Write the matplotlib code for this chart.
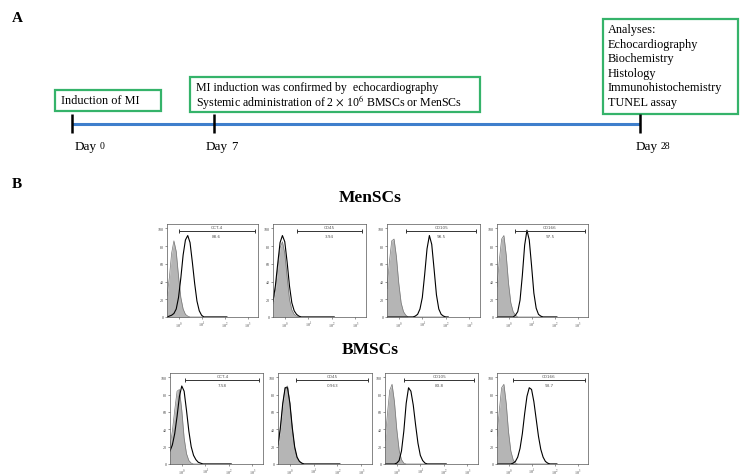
import numpy as np
import matplotlib
matplotlib.use("Agg")
import matplotlib.pyplot as plt
from matplotlib.patches import Rectangle

plt.rcParams['font.family'] = ['Liberation Serif', 'DejaVu Serif']
plt.rcParams['mathtext.fontset'] = 'stix'

# timeline data
days = [0, 7, 28]
day_nums = ['0', '7', '28']

# flow cytometry data (x = log10 fluorescence, y = % of max)
log_x = [-0.5, -0.4, -0.3, -0.2, -0.1, 0.0, 0.1, 0.2, 0.3, 0.4, 0.5, 0.6, 0.7, 0.8,
         0.9, 1.0, 1.1, 1.2, 1.3, 1.4, 1.5, 1.6, 1.7, 1.8, 1.9, 2.0, 2.1]
markers = ['OCT-4', 'CD45', 'CD105', 'CD166']

men_iso = [
    [24, 44, 72, 86, 74, 46, 22, 9, 3, 1, 0, 0, 0, 0, 0, 0, 0, 0, 0, 0, 0, 0, 0, 0, 0, 0, 0],
    [15, 30, 55, 78, 85, 72, 45, 20, 8, 3, 1, 0, 0, 0, 0, 0, 0, 0, 0, 0, 0, 0, 0, 0, 0, 0, 0],
    [32, 62, 86, 88, 68, 38, 16, 6, 2, 0, 0, 0, 0, 0, 0, 0, 0, 0, 0, 0, 0, 0, 0, 0, 0, 0, 0],
    [34, 64, 88, 92, 70, 38, 16, 6, 2, 0, 0, 0, 0, 0, 0, 0, 0, 0, 0, 0, 0, 0, 0, 0, 0, 0, 0],
]
men_stain = [
    [0, 1, 2, 4, 9, 22, 44, 70, 87, 92, 84, 62, 38, 18, 7, 2, 0, 0, 0, 0, 0, 0, 0, 0, 0, 0, 0],
    [18, 35, 60, 84, 92, 85, 62, 35, 16, 7, 3, 1, 0, 0, 0, 0, 0, 0, 0, 0, 0, 0, 0, 0, 0, 0, 0],
    [0, 0, 0, 0, 0, 0, 0, 0, 0, 0, 0, 0, 1, 3, 9, 22, 48, 77, 92, 82, 54, 25, 9, 3, 1, 0, 0],
    [0, 0, 0, 0, 0, 0, 0, 0, 2, 6, 19, 47, 81, 98, 87, 58, 27, 10, 3, 1, 0, 0, 0, 0, 0, 0, 0],
]
men_pct = ['88.6', '3.94', '98.5', '97.5']
men_gate = [0.0, 0.5, 0.3, 0.3]

bm_iso = [
    [20, 38, 62, 84, 86, 62, 30, 12, 4, 1, 0, 0, 0, 0, 0, 0, 0, 0, 0, 0, 0, 0, 0, 0, 0, 0, 0],
    [20, 40, 68, 88, 90, 70, 40, 18, 7, 3, 1, 0, 0, 0, 0, 0, 0, 0, 0, 0, 0, 0, 0, 0, 0, 0, 0],
    [27, 57, 85, 92, 72, 40, 16, 5, 1, 0, 0, 0, 0, 0, 0, 0, 0, 0, 0, 0, 0, 0, 0, 0, 0, 0, 0],
    [32, 62, 88, 92, 70, 37, 15, 5, 1, 0, 0, 0, 0, 0, 0, 0, 0, 0, 0, 0, 0, 0, 0, 0, 0, 0, 0],
]
bm_stain = [
    [15, 22, 35, 55, 78, 90, 84, 62, 38, 20, 10, 5, 2, 1, 0, 0, 0, 0, 0, 0, 0, 0, 0, 0, 0, 0, 0],
    [22, 42, 70, 88, 88, 70, 42, 20, 8, 3, 1, 0, 0, 0, 0, 0, 0, 0, 0, 0, 0, 0, 0, 0, 0, 0, 0],
    [0, 0, 0, 0, 0, 1, 4, 15, 38, 70, 88, 84, 68, 45, 24, 10, 4, 1, 0, 0, 0, 0, 0, 0, 0, 0, 0],
    [0, 0, 0, 0, 0, 0, 0, 1, 3, 8, 18, 35, 58, 78, 88, 86, 72, 52, 32, 17, 8, 3, 1, 0, 0, 0, 0],
]
bm_pct = ['7.58', '0.963', '83.8', '93.7']
bm_gate = [0.15, 0.25, 0.3, 0.2]
gate_end = 3.3

W, H = 741, 477
fig = plt.figure(figsize=(W / 100, H / 100), dpi=100)

# overlay in pixel coords for layout items
ax_px = fig.add_axes([0, 0, 1, 1])
ax_px.set_xlim(0, W)
ax_px.set_ylim(H, 0)
ax_px.axis('off')

# timeline axes with day scale
x0, x28 = 72, 640
ppd = (x28 - x0) / 28
ax_tl = fig.add_axes([0, 0, 1, 1])
ax_tl.set_xlim(-x0 / ppd, (W - x0) / ppd)
ax_tl.set_ylim(H, 0)
ax_tl.axis('off')
ax_tl.patch.set_alpha(0)

ax_tl.plot([days[0], days[-1]], [125, 125], color='#3f7fcc', lw=2.2, solid_capstyle='butt')
ax_tl.vlines(days, 115, 134, color='black', lw=1.8)
label_off = [3, -8, -4]
num_size = [7, 9, 7]
for d, n, off, ns in zip(days, day_nums, label_off, num_size):
    t = ax_tl.text(d + off / ppd, 147, 'Day', fontsize=9.5, ha='left', va='center')
    ax_tl.annotate(n, xy=(1, 0.5), xycoords=t, xytext=(2, 0), textcoords='offset points',
                   fontsize=ns, ha='left', va='center')

green = '#35b36a'
for (bx, by, bw, bh) in [(55, 91, 106, 21), (190, 78, 290, 35), (603, 20, 135, 95)]:
    ax_px.add_patch(Rectangle((bx, by), bw, bh, fill=False, edgecolor=green, lw=1.6))

ax_px.text(61, 101.5, 'Induction of MI', fontsize=8.8, va='center')
ax_px.text(196, 88, 'MI induction was confirmed by  echocardiography', fontsize=8.6, va='center')
ax_px.text(196, 102, r'Systemic administration of 2 $\times$ 10$^6$ BMSCs or MenSCs', fontsize=8.6, va='center')
analyses = ['Analyses:', 'Echocardiography', 'Biochemistry', 'Histology',
            'Immunohistochemistry', 'TUNEL assay']
for i, s in enumerate(analyses):
    ax_px.text(608, 30 + i * 14.6, s, fontsize=8.8, va='center')

ax_px.text(12, 18, 'A', fontsize=11, fontweight='bold', va='center')
ax_px.text(12, 185, 'B', fontsize=11, fontweight='bold', va='center')
ax_px.text(370, 198, 'MenSCs', fontsize=12.5, fontweight='bold', ha='center', va='center')
ax_px.text(370, 350, 'BMSCs', fontsize=12.5, fontweight='bold', ha='center', va='center')


def flow_panel(rect, iso, stain, name, pct, gate0):
    l, t, r, b = rect
    ax = fig.add_axes([l / W, 1 - b / H, (r - l) / W, (b - t) / H])
    ax.fill_between(log_x, iso, color='#b5b5b5', lw=0)
    ax.plot(log_x, iso, color='#777777', lw=0.5)
    ax.plot(log_x, stain, color='black', lw=0.8)
    ax.set_xlim(-0.5, 3.45)
    ax.set_ylim(0, 105)
    ax.set_yticks([0, 20, 40, 60, 80, 100])
    ax.set_xticks([0, 1, 2, 3])
    ax.set_xticklabels([r'$10^0$', r'$10^1$', r'$10^2$', r'$10^3$'])
    ax.tick_params(labelsize=3, length=1.5, width=0.4, pad=0.8, colors='#444444')
    for sp in ax.spines.values():
        sp.set_linewidth(0.5)
        sp.set_color('#555555')
    ax.plot([gate0, gate_end], [97, 97], color='#333333', lw=0.7)
    ax.plot([gate0, gate_end], [97, 97], ls='none', marker='|', ms=3, color='#333333', mew=0.7)
    mid = (gate0 + gate_end) / 2
    ax.text(mid, 99, name, fontsize=3, ha='center', va='bottom', family='DejaVu Sans', color='#555555')
    ax.text(mid, 94, pct, fontsize=3, ha='center', va='top', family='DejaVu Sans', color='#555555')
    return ax


top_rects = [(167, 225, 258, 318), (273, 225, 366, 318), (387, 225, 480, 318), (497, 225, 588, 318)]
bot_rects = [(170, 374, 263, 465), (278, 374, 372, 465), (385, 374, 478, 465), (497, 374, 588, 465)]

for i in range(4):
    flow_panel(top_rects[i], men_iso[i], men_stain[i], markers[i], men_pct[i], men_gate[i])
    flow_panel(bot_rects[i], bm_iso[i], bm_stain[i], markers[i], bm_pct[i], bm_gate[i])

fig.savefig('out.png', dpi=100)
